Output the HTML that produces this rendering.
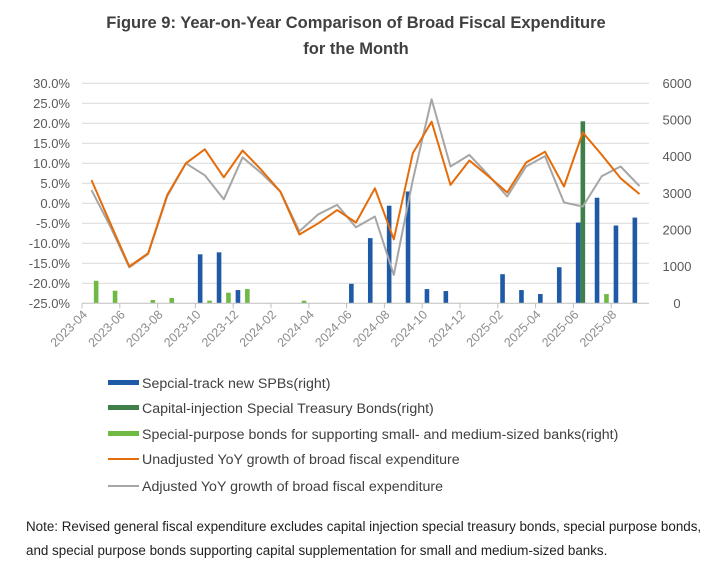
<!DOCTYPE html>
<html><head><meta charset="utf-8">
<style>
body{margin:0;background:#fff;font-family:"Liberation Sans",sans-serif;}
svg{display:block}
</style></head>
<body>
<svg id="chart" width="713" height="576" viewBox="0 0 713 576" xmlns="http://www.w3.org/2000/svg">
<rect x="0" y="0" width="713" height="576" fill="#fff"/>
<text x="356" y="28" text-anchor="middle" font-size="16.5" font-weight="bold" fill="#404040">Figure 9: Year-on-Year Comparison of Broad Fiscal Expenditure</text>
<text x="356" y="54" text-anchor="middle" font-size="16.5" font-weight="bold" fill="#404040">for the Month</text>
<g id="grid"></g>
<g id="bars"></g>
<g id="lines"></g>
<g id="axes"></g>
<g font-size="14.2" fill="#404040">
<rect x="108" y="380" width="31" height="5" fill="#1f5aa6"/>
<text x="142" y="388">Sepcial-track new SPBs(right)</text>
<rect x="108" y="405" width="31" height="5" fill="#3f7f4a"/>
<text x="142" y="413">Capital-injection Special Treasury Bonds(right)</text>
<rect x="108" y="431" width="31" height="5" fill="#6fba44"/>
<text x="142" y="439">Special-purpose bonds for supporting small- and medium-sized banks(right)</text>
<line x1="108" y1="459" x2="139" y2="459" stroke="#e46c0a" stroke-width="2"/>
<text x="142" y="464">Unadjusted YoY growth of broad fiscal expenditure</text>
<line x1="108" y1="486" x2="139" y2="486" stroke="#a6a6a6" stroke-width="2"/>
<text x="142" y="491">Adjusted YoY growth of broad fiscal expenditure</text>
</g>
<text x="26" y="531" font-size="13.4" fill="#202020">Note: Revised general fiscal expenditure excludes capital injection special treasury bonds, special purpose bonds,</text>
<text x="26" y="555" font-size="13.4" fill="#202020">and special purpose bonds supporting capital supplementation for small and medium-sized banks.</text>
</svg>
<script>
const categories=["2023-04","2023-05","2023-06","2023-07","2023-08","2023-09","2023-10","2023-11","2023-12","2024-01","2024-02","2024-03","2024-04","2024-05","2024-06","2024-07","2024-08","2024-09","2024-10","2024-11","2024-12","2025-01","2025-02","2025-03","2025-04","2025-05","2025-06","2025-07","2025-08","2025-09"];
const unadjusted=[5.8,-5,-15.8,-12.5,2,10,13.5,6.5,13.2,8.3,2.9,-7.8,-5,-1.7,-4.8,3.75,-9,12.5,20.4,4.6,10.7,6.8,2.7,10.2,12.9,4.2,17.7,12.1,6.25,2.3];
const adjusted=[3.3,-5.8,-16,-12.7,1.7,10,7,1,11.5,7.5,2.9,-7,-2.75,-0.4,-6,-3.3,-17.9,5.8,26,9.2,12.1,7.1,1.7,9.2,11.8,0.2,-0.8,6.8,9.2,4.3];
const specialTrack=[0,0,0,0,0,0,1336,1390,361,0,0,0,0,0,532,1778,2662,3050,388,334,0,0,794,361,253,984,2202,2879,2121,2338];
const capitalInjection=[0,0,0,0,0,0,0,0,0,0,0,0,0,0,0,0,0,0,0,0,0,0,0,0,0,0,4964,0,0,0];
const specialPurpose=[614,343,0,90,144,0,72,289,388,0,0,72,0,0,0,0,0,0,0,0,0,0,0,0,0,0,0,253,0,0];
const leftTicks=[30,25,20,15,10,5,0,-5,-10,-15,-20,-25];
const rightTicks=[0,1000,2000,3000,4000,5000,6000];

const NS="http://www.w3.org/2000/svg";
const X0=82,X1=649,YT=83.3,YB=303.3;
const bw=(X1-X0)/categories.length;
const xc=i=>X0+(i+0.5)*bw;
const yL=v=>YT+(30-v)/55*(YB-YT);
const yR=v=>YB-v/6000*(YB-YT);
function mk(tag,attrs,parent){const e=document.createElementNS(NS,tag);for(const k in attrs)e.setAttribute(k,attrs[k]);parent.appendChild(e);return e;}
const grid=document.getElementById('grid'),bars=document.getElementById('bars'),lines=document.getElementById('lines'),axes=document.getElementById('axes');
leftTicks.forEach(v=>{
  const y=yL(v);
  if(v!==-25){const g=mk('line',{x1:X0,x2:X1,y1:y,y2:y,stroke:'#d9d9d9','stroke-width':1},grid);
  
  }
  const t=mk('text',{x:X0-12,y:y+4.5,'text-anchor':'end','font-size':13,fill:'#595959'},axes);
  t.textContent=v.toFixed(1)+'%';
  
  
});
rightTicks.forEach(v=>{
  const t=mk('text',{x:X1+28,y:yR(v)+4.5,'text-anchor':'middle','font-size':13,fill:'#595959'},axes);
  t.textContent=v;
  
  
});
const ax=mk('line',{x1:X0,x2:X1,y1:YB,y2:YB,stroke:'#bfbfbf','stroke-width':1},axes);


categories.forEach((c,i)=>{
  if(i%2===0){
    const x=X0+i*bw;
    const tk=mk('line',{x1:x,x2:x,y1:YB,y2:YB+5,stroke:'#bfbfbf'},axes);
    
    
    const t=mk('text',{x:x+6,y:YB+12,'text-anchor':'end','font-size':12.5,fill:'#8c8c8c',transform:`rotate(-45 ${x+6} ${YB+12})`},axes);
    t.textContent=c;
    
    
  }
});
const W=4.6;
[[specialTrack,-4.7,'#1f5aa6','bar-special-track'],[capitalInjection,0,'#3f7f4a','bar-capital-injection'],[specialPurpose,4.7,'#6fba44','bar-special-purpose']].forEach(([arr,off,col,name])=>{
  arr.forEach((v,i)=>{
    if(v<=0)return;
    const y=yR(v);
    const r=mk('rect',{x:xc(i)+off-W/2,y:y,width:W,height:YB-y,fill:col},bars);
    
    
  });
});
[[adjusted,'#a6a6a6','line-adjusted'],[unadjusted,'#e46c0a','line-unadjusted']].forEach(([arr,col,name])=>{
  const p=mk('polyline',{points:arr.map((v,i)=>xc(i).toFixed(1)+','+yL(v).toFixed(1)).join(' '),fill:'none',stroke:col,'stroke-width':2,'stroke-linejoin':'round'},lines);
  
  
});
</script>
</body></html>
